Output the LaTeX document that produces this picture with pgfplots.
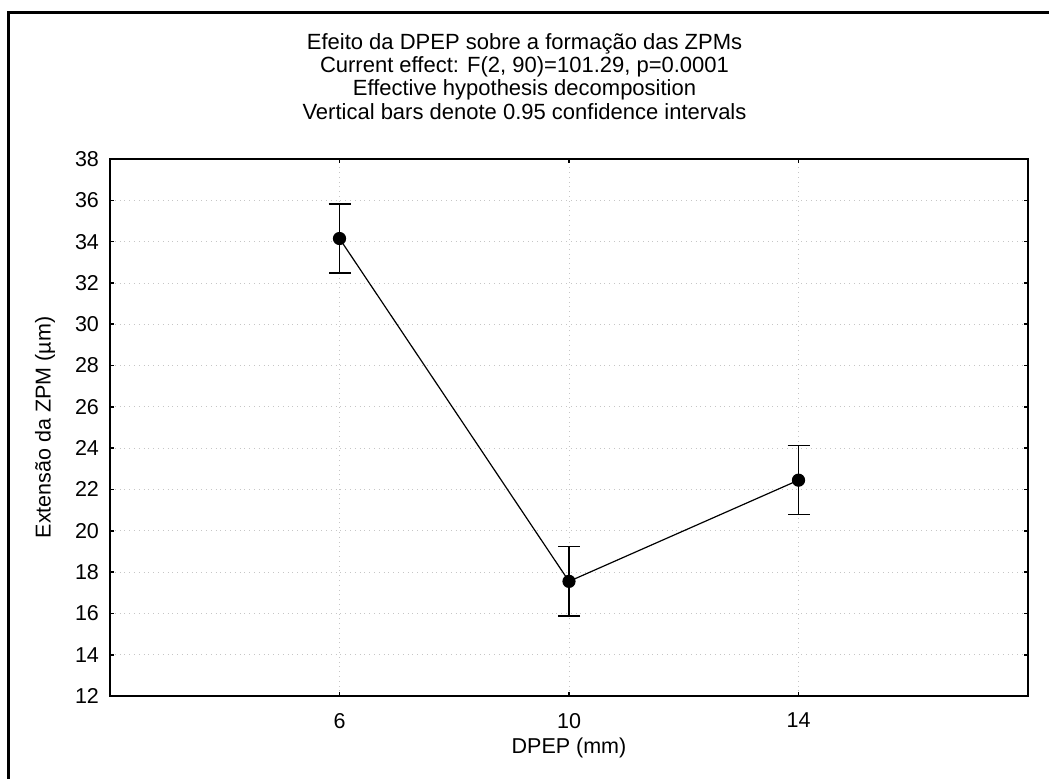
\documentclass[border=0pt]{standalone}
\usepackage{fontspec}
\setmainfont{Liberation Sans}
\usepackage{pgfplots}
\pgfplotsset{compat=1.18}

\begin{document}
\begin{tikzpicture}
\begin{axis}[
  at={(0,0)}, anchor=south west,
  scale only axis,
  width=459pt, height=268.5pt,
  xmin=2, xmax=18,
  ymin=12, ymax=38,
  xtick={6,10,14},
  ytick={12,14,...,38},
  tick align=inside,
  major tick length=2pt,
  axis line style={line width=1pt},
  tick style={line width=0.8pt, black},
  xmajorgrids, ymajorgrids,
  grid style={dotted, gray!45, line width=0.4pt},
  /pgf/number format/assume math mode=true,
  ticklabel style={font=\fontsize{10.75}{12}\selectfont},
  yticklabel style={xshift=-2pt},
  xticklabel style={yshift=-5pt},
  xlabel={DPEP (mm)},
  ylabel={Extensão da ZPM (µm)},
  label style={font=\fontsize{10.75}{12}\selectfont},
  xlabel style={at={(rel axis cs:0.5,0)}, anchor=center, yshift=-26pt},
  ylabel style={at={(rel axis cs:0,0.5)}, anchor=center, yshift=32.5pt},
]
\addplot[black, line width=0.6pt, mark=*, mark size=3pt,
  error bars/.cd, y dir=both, y explicit,
  error bar style={line width=0.6pt},
  error mark options={rotate=90, mark size=5.5pt, line width=0.6pt}]
  coordinates {
  (6,34.15) +- (0,1.67)
  (10,17.55) +- (0,1.68)
  (14,22.45) +- (0,1.67)
};
\end{axis}
\node[align=center, font=\fontsize{11}{11.67}\selectfont] at (207.25pt,309.9pt)
  {Efeito da DPEP sobre a formação das ZPMs\\
   Current effect: F(2, 90)=101.29, p=0.0001\\
   Effective hypothesis decomposition\\
   Vertical bars denote 0.95 confidence intervals};
\draw[line width=1.5pt] (-50.5pt,-60pt) -- (-50.5pt,341.5pt) -- (490pt,341.5pt);
\pgfresetboundingbox
\useasboundingbox (-55pt,-41pt) rectangle (469.5pt,348pt);
\end{tikzpicture}
\end{document}
